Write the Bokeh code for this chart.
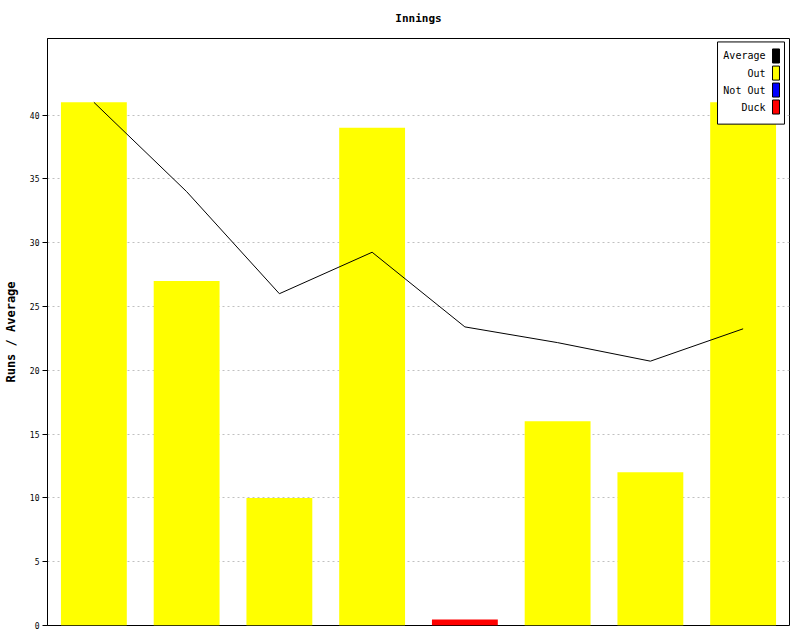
from bokeh.plotting import figure
from bokeh.models import Range1d, FixedTicker, BoxAnnotation, Label, ColumnDataSource
from bokeh.embed import file_html
from bokeh.resources import INLINE

# ---- data ----
innings = ["1", "2", "3", "4", "5", "6", "7", "8"]
runs = [41, 27, 10, 39, 0, 16, 12, 41]
status = ["Out", "Out", "Out", "Out", "Duck", "Out", "Out", "Out"]
y_ticks = [0, 5, 10, 15, 20, 25, 30, 35, 40]
legend_names = ["Average", "Out", "Not Out", "Duck"]
legend_colors = ["#000000", "#ffff00", "#0000ff", "#ff0000"]
status_colors = {"Out": "#ffff00", "Not Out": "#0000ff", "Duck": "#ff0000"}
DUCK_DISPLAY = 0.47  # visible stub for a zero score

# derived: running average (runs per dismissal)
avg = []
tot = 0
outs = 0
for r, s in zip(runs, status):
    tot += r
    if s != "Not Out":
        outs += 1
    avg.append(tot / outs if outs else tot)

xs = [i + 0.5 for i in range(len(innings))]
heights = [DUCK_DISPLAY if s == "Duck" else r for r, s in zip(runs, status)]
colors = [status_colors[s] for s in status]

src = ColumnDataSource(dict(x=xs, top=heights, color=colors, avg=avg, inn=innings))

FONT = "DejaVu Sans Mono"

p = figure(frame_width=742, frame_height=587,
           x_range=Range1d(0, len(innings)), y_range=Range1d(0, 46),
           output_backend="svg", toolbar_location=None,
           min_border_left=40, min_border_right=2, min_border_top=38, min_border_bottom=7,
           title="Innings")
p.background_fill_color = "white"
p.border_fill_color = "white"
p.outline_line_color = "black"
p.outline_line_width = 1
p.outline_line_alpha = 1

p.title.align = "center"
p.title.vertical_align = "top"
p.title.text_font = FONT
p.title.text_font_size = "11px"
p.title.text_font_style = "bold"
p.title.text_color = "black"
p.title.standoff = 23

p.xaxis.visible = False
p.xgrid.visible = False

p.yaxis.ticker = FixedTicker(ticks=y_ticks)
p.yaxis.axis_label = "Runs / Average"
p.yaxis.axis_label_text_font = FONT
p.yaxis.axis_label_text_font_size = "12px"
p.yaxis.axis_label_text_font_style = "bold"
p.yaxis.axis_label_text_color = "black"
p.yaxis.axis_label_standoff = 9
p.yaxis.major_label_text_font = FONT
p.yaxis.major_label_text_font_size = "8px"
p.yaxis.major_label_text_color = "black"
p.yaxis.major_label_standoff = 3
p.yaxis.major_tick_out = 5
p.yaxis.major_tick_in = 0
p.yaxis.minor_tick_line_color = None
p.yaxis.axis_line_color = "black"
p.yaxis.major_tick_line_color = "black"

p.ygrid.grid_line_color = "#c0c0c0"
p.ygrid.grid_line_dash = "2 3"
p.ygrid.grid_line_width = 1

p.vbar(x="x", top="top", bottom=0, width=0.71, fill_color="color", line_color=None, source=src)
p.line(x="x", y="avg", line_color="black", line_width=1, source=src)

# ---- custom legend (label left, swatch right) ----
p.add_layout(BoxAnnotation(left=7.224, right=7.946, bottom=39.29, top=45.73,
                           fill_color="white", fill_alpha=1, line_color="black",
                           line_width=1, line_alpha=1, level="annotation"))
row_y = [44.63, 43.29, 41.96, 40.63]
for name, col, yy in zip(legend_names, legend_colors, row_y):
    p.add_layout(BoxAnnotation(left=7.817, right=7.892, bottom=yy - 0.55, top=yy + 0.55,
                               fill_color=col, fill_alpha=1, line_color="black",
                               line_width=1, line_alpha=1, level="annotation"))
    p.add_layout(Label(x=7.741, y=yy, text=name, text_align="right", text_baseline="middle",
                       text_font=FONT, text_font_size="10px", text_color="black"))

open("out.html", "w").write(file_html(p, INLINE))
